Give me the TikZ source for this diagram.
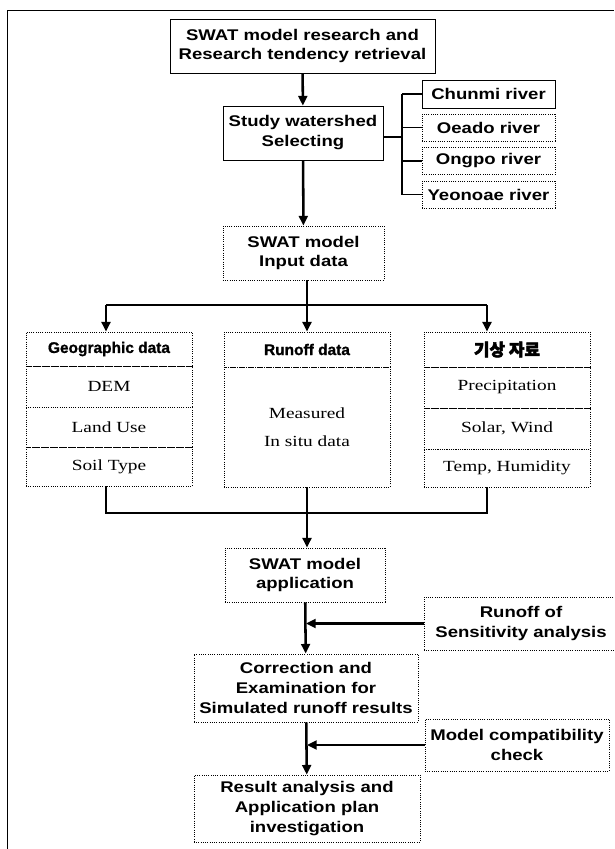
\documentclass[tikz,border=0pt]{standalone}
\usepackage{fontspec}
\setmainfont{Liberation Serif}
\newfontfamily\swatfont[FakeStretch=1.2]{Liberation Sans}
\newfontfamily\headfont[FakeBold=1]{Liberation Sans}
\newfontfamily\cellfont[FakeStretch=1.25]{Liberation Serif}
\newfontfamily\krfont[FakeBold=3]{Noto Sans CJK KR}
\usepackage{tikz}
\usetikzlibrary{arrows.meta,calc}

\begin{document}
\begin{tikzpicture}[
	x=0.025cm, y=-0.025cm,
	every node/.style = {draw, line width=0.6pt, inner sep=0pt, align=center},
	stepbox/.style = {densely dotted, font=\swatfont\bfseries\fontsize{11}{14.2}\selectfont},
	solidbox/.style = {solid, font=\swatfont\bfseries\fontsize{11}{14.2}\selectfont},
	headcell/.style = {densely dotted, minimum width=4.15cm, font=\headfont\bfseries\fontsize{11}{13}\selectfont},
	datacell/.style = {densely dotted, minimum width=4.15cm, font=\cellfont\fontsize{11}{13}\selectfont},
	flow/.style = {line width=1.8pt},
	arr/.style = {line width=1.8pt, -{Triangle[length=2.4mm,width=2.2mm]}},
	branch/.style = {line width=1.2pt}
	]
	\useasboundingbox (0,0) rectangle (614,849);
	
	% Frame
	\draw[line width=0.6pt] (7,849) -- (7,10) -- (614,10);
	
	% Top
	\node[solidbox, minimum width=6.625cm, minimum height=1.35cm] (research) at (302.5,46) {SWAT model research and\\Research tendency retrieval};
	\node[solidbox, minimum width=4cm, minimum height=1.35cm] (study) at (303,133) {Study watershed\\Selecting};
	\draw[arr] (research) -- (study);
	
	% Rivers
	\node[solidbox, minimum width=3.325cm, minimum height=0.7cm] (chunmi) at (488.5,94) {Chunmi river};
	\node[stepbox, minimum width=3.325cm, minimum height=0.675cm] (oeado) at (488.5,127.5) {Oeado river};
	\node[stepbox, minimum width=3.325cm, minimum height=0.675cm] (ongpo) at (488.5,161) {Ongpo river};
	\node[stepbox, minimum width=3.325cm, minimum height=0.675cm] (yeonoae) at (488.5,194.5) {Yeonoae river};
	\coordinate (fork) at (402,137);
	\draw[flow] (study.east |- fork) -- (fork);
	\draw[branch] (fork |- chunmi) -- (fork |- yeonoae);
	\foreach \r in {chunmi,oeado,ongpo,yeonoae}
	\draw[branch] (fork |- \r.west) -- (\r.west);
	
	% Input data
	\node[stepbox, minimum width=4.025cm, minimum height=1.35cm] (input) at (303.5,253) {SWAT model\\Input data};
	\draw[arr] (study) -- (input);
	
	% Geographic data
	\node[headcell, minimum height=0.85cm] (geohead) at (109,349) {Geographic data};
	\node[datacell, minimum height=1.025cm] (dem) at (109,386.5) {DEM};
	\node[datacell, minimum height=1cm] (landuse) at (109,427) {Land Use};
	\node[datacell, minimum height=0.975cm] (soil) at (109,466.5) {Soil Type};
	
	% Runoff data
	\node[headcell, minimum height=0.875cm] (runhead) at (307,349.5) {Runoff data};
	\node[datacell, minimum height=3cm] (runbody) at (307,427) {Measured\\[7pt]In situ data};
	
	% Weather data
	\node[headcell, minimum height=0.875cm] (wethead) at (507,349.5) {\krfont\fontsize{12}{13}\selectfont 기상 자료};
	\node[datacell, minimum height=1.025cm] (precip) at (507,387.5) {Precipitation};
	\node[datacell, minimum height=1.025cm] (solar) at (507,428.5) {Solar, Wind};
	\node[datacell, minimum height=0.95cm] (temp) at (507,468) {Temp, Humidity};
	
	% Split to the three data groups
	\coordinate (split) at (307,305);
	\coordinate (splitL) at (106,305);
	\coordinate (splitR) at (487,305);
	\draw[flow] (input.south -| split) -- (split);
	\draw[flow] (splitL) -- (splitR);
	\draw[arr] (splitL) -- (splitL |- geohead.north);
	\draw[arr] (split) -- (runhead.north);
	\draw[arr] (splitR) -- (splitR |- wethead.north);
	
	% Join
	\coordinate (join) at (307,513);
	\coordinate (joinL) at (106,513);
	\coordinate (joinR) at (487,513);
	\draw[flow] (joinL |- soil.south) -- (joinL) -- (joinR) -- (joinR |- temp.south);
	\draw[flow] (runbody.south) -- (join);
	
	% Application and checks
	\node[stepbox, minimum width=4cm, minimum height=1.35cm] (app) at (305,575) {SWAT model\\application};
	\draw[arr] (join) -- (app.north -| join);
	\node[stepbox, minimum width=4.85cm, minimum height=1.325cm] (sens) at (521,623.5) {Runoff of\\Sensitivity analysis};
	\node[stepbox, minimum width=5.6cm, minimum height=1.7cm] (corr) at (306,688) {Correction and\\Examination for\\Simulated runoff results};
	\draw[arr] (app) -- (corr);
	\draw[arr] (sens.west) -- (sens.west -| corr.north);
	\node[stepbox, minimum width=4.6cm, minimum height=1.3cm] (compat) at (517,745) {Model compatibility\\check};
	\node[stepbox, minimum width=5.65cm, minimum height=1.675cm] (result) at (307,808.5) {Result analysis and\\Application plan\\investigation};
	\draw[arr] (corr) -- (result);
	\draw[arr] (compat.west) -- (compat.west -| result.north);
	
\end{tikzpicture}
\end{document}
